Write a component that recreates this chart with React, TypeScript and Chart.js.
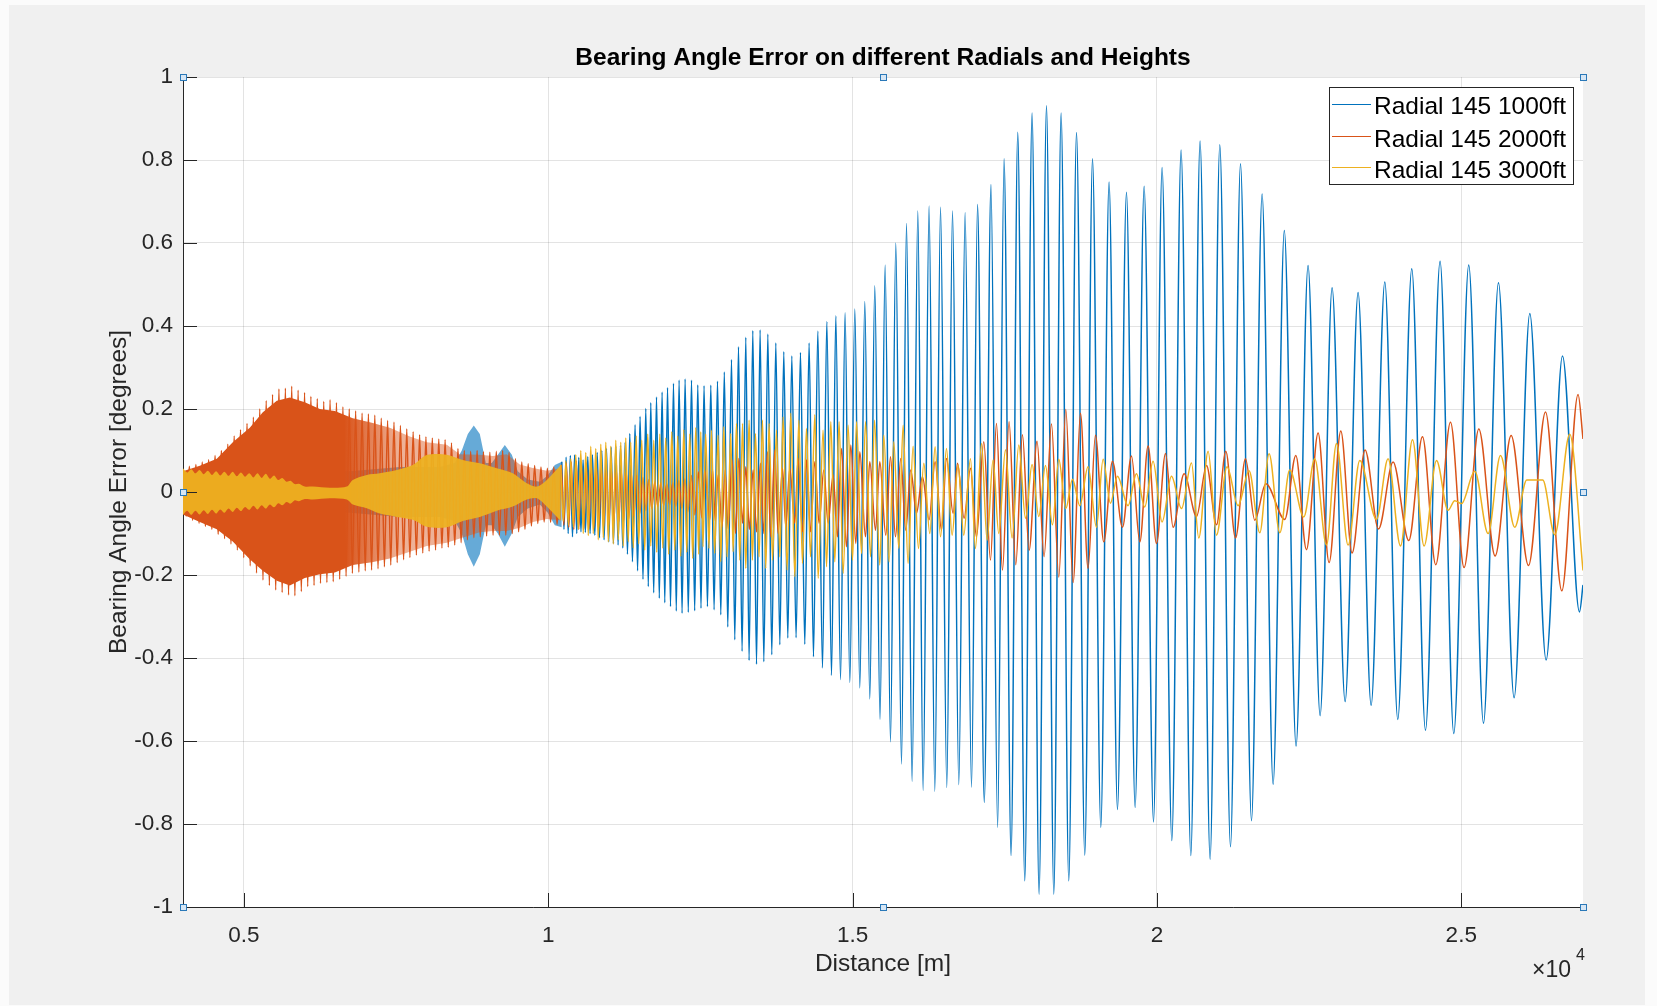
import React, { useEffect, useRef } from 'react';
import { Chart, registerables } from 'chart.js';

Chart.register(...registerables);

const FONT = '"Liberation Sans", Arial, Helvetica, sans-serif';
const BLUE = '#0072BD';
const ORANGE = '#D95319';
const YELLOW = '#EDB120';
const AXIS = '#262626';

const chartTitle = 'Bearing Angle Error on different Radials and Heights';
const xTitle = 'Distance [m]';
const yTitle = 'Bearing Angle Error [degrees]';
const seriesLabels = ['Radial 145 1000ft', 'Radial 145 2000ft', 'Radial 145 3000ft'];
const xTickValues = [5000, 10000, 15000, 20000, 25000];
const yTickValues = [-1, -0.8, -0.6, -0.4, -0.2, 0, 0.2, 0.4, 0.6, 0.8, 1];

// ---- dense (unresolvable) parts: envelopes of the oscillation ----
const blueBandX = [4000, 5097, 5919, 6740, 7562, 8219, 8465, 8580, 8679, 8777, 8876, 8975, 9073, 9172, 9287, 9402, 9500, 9665, 9862, 9993, 10108, 10223];
const blueBandHi = [0.03, 0.04, 0.05, 0.05, 0.06, 0.06, 0.07, 0.10, 0.14, 0.16, 0.14, 0.07, 0.07, 0.09, 0.113, 0.09, 0.05, 0.03, 0.025, 0.04, 0.065, 0.073];
const blueBandLo = [-0.03, -0.04, -0.05, -0.05, -0.06, -0.06, -0.07, -0.10, -0.15, -0.18, -0.15, -0.08, -0.08, -0.10, -0.132, -0.10, -0.06, -0.04, -0.03, -0.05, -0.08, -0.085];

const orangeBandX = [4000, 4276, 4555, 4818, 5097, 5311, 5541, 5755, 6001, 6247, 6494, 6789, 7102, 7397, 7726, 8005, 8334, 8547, 8876, 9090, 9320, 9533, 9747, 9977, 10215];
const orangeBandHi = [0.05, 0.063, 0.08, 0.12, 0.155, 0.192, 0.22, 0.228, 0.216, 0.2, 0.195, 0.178, 0.167, 0.155, 0.134, 0.12, 0.114, 0.091, 0.09, 0.087, 0.091, 0.066, 0.058, 0.051, 0.058];
const orangeBandLo = [-0.054, -0.072, -0.09, -0.119, -0.162, -0.19, -0.214, -0.225, -0.207, -0.198, -0.194, -0.176, -0.169, -0.16, -0.144, -0.13, -0.122, -0.112, -0.097, -0.094, -0.094, -0.086, -0.072, -0.065, -0.068];

const yellowBandX = [4000, 4068, 4136, 4204, 4272, 4340, 4408, 4476, 4544, 4612,
  4680, 4748, 4816, 4884, 4952, 5020, 5088, 5156, 5224, 5292,
  5360, 5428, 5496, 5564, 5632, 5700, 5768, 5836, 5904, 6000,
  6133, 6412, 6691, 6789, 7019, 7233, 7512, 7775, 8005, 8334,
  8597, 8876, 9155, 9418, 9648, 9813, 9977, 10206];
const yellowBandHi = [0.057, 0.047, 0.055, 0.045, 0.053, 0.043, 0.051, 0.041, 0.05, 0.04,
  0.049, 0.039, 0.049, 0.038, 0.047, 0.037, 0.045, 0.035, 0.045, 0.034,
  0.044, 0.032, 0.04, 0.029, 0.034, 0.025, 0.027, 0.019, 0.02, 0.013,
  0.013, 0.010, 0.013, 0.029, 0.041, 0.045, 0.053, 0.065, 0.089, 0.090,
  0.077, 0.069, 0.057, 0.045, 0.021, 0.013, 0.029, 0.065];
const yellowBandLo = [-0.055, -0.045, -0.055, -0.045, -0.054, -0.044, -0.053, -0.043, -0.052, -0.042,
  -0.05, -0.04, -0.048, -0.038, -0.046, -0.036, -0.043, -0.033, -0.042, -0.032,
  -0.04, -0.03, -0.037, -0.027, -0.032, -0.024, -0.028, -0.02, -0.022, -0.017,
  -0.018, -0.015, -0.018, -0.030, -0.039, -0.052, -0.060, -0.067, -0.084, -0.085,
  -0.070, -0.060, -0.045, -0.035, -0.018, -0.015, -0.035, -0.07];

// ---- orange spikes in the dense part (peaks and troughs of the striations) ----
const orangeDenseX = [4000, 4052, 4105, 4158, 4212, 4264, 4316, 4368, 4421, 4474,
  4527, 4578, 4630, 4683, 4736, 4788, 4841, 4893, 4945, 4998,
  5052, 5104, 5156, 5208, 5261, 5314, 5367, 5419, 5471, 5523,
  5576, 5629, 5682, 5734, 5786, 5838, 5891, 5944, 5997, 6049,
  6101, 6153, 6206, 6259, 6312, 6364, 6416, 6468, 6521, 6574,
  6627, 6679, 6731, 6783, 6836, 6889, 6942, 6994, 7046, 7098,
  7151, 7204, 7257, 7309, 7361, 7413, 7466, 7519, 7572, 7624,
  7676, 7728, 7781, 7834, 7887, 7939, 7991, 8043, 8096, 8149,
  8202, 8254, 8306, 8358, 8411, 8464, 8517, 8569, 8621, 8673,
  8726, 8779, 8832, 8884, 8936, 8988, 9041, 9094, 9147, 9199,
  9251, 9303, 9356, 9409, 9462, 9514, 9566, 9618, 9671, 9724,
  9777, 9829, 9881, 9933, 9986, 10039, 10092, 10145];
const orangeDenseY = [0.055, -0.058, 0.062, -0.068, 0.066, -0.075, 0.072, -0.083, 0.078, -0.09,
  0.088, -0.102, 0.10, -0.112, 0.115, -0.125, 0.135, -0.14, 0.15, -0.158,
  0.165, -0.178, 0.18, -0.195, 0.20, -0.212, 0.22, -0.225, 0.235, -0.236,
  0.248, -0.242, 0.25, -0.248, 0.255, -0.25, 0.245, -0.24, 0.24, -0.228,
  0.23, -0.225, 0.225, -0.22, 0.218, -0.218, 0.222, -0.216, 0.215, -0.21,
  0.205, -0.203, 0.20, -0.196, 0.195, -0.193, 0.19, -0.19, 0.188, -0.188,
  0.185, -0.185, 0.178, -0.18, 0.172, -0.176, 0.168, -0.17, 0.16, -0.163,
  0.152, -0.158, 0.145, -0.152, 0.138, -0.147, 0.133, -0.143, 0.13, -0.14,
  0.128, -0.135, 0.126, -0.133, 0.118, -0.128, 0.105, -0.122, 0.10, -0.115,
  0.098, -0.11, 0.10, -0.108, 0.097, -0.106, 0.096, -0.104, 0.098, -0.104,
  0.10, -0.104, 0.095, -0.10, 0.08, -0.096, 0.072, -0.09, 0.068, -0.082,
  0.064, -0.076, 0.06, -0.072, 0.057, -0.073, 0.06, -0.078];

// ---- resolved part: successive peaks and troughs ----
const blueX = [10223, 10259, 10294, 10328, 10363, 10399, 10433, 10469, 10502, 10538,
  10573, 10610, 10650, 10688, 10727, 10765, 10805, 10842, 10880, 10918,
  10957, 10995, 11034, 11072, 11110, 11148, 11187, 11225, 11264, 11302,
  11340, 11384, 11427, 11468, 11509, 11557, 11603, 11644, 11685, 11733,
  11779, 11825, 11871, 11915, 11960, 12009, 12058, 12104, 12150, 12199,
  12249, 12301, 12354, 12406, 12457, 12510, 12560, 12616, 12671, 12725,
  12781, 12835, 12893, 12950, 13011, 13065, 13126, 13185, 13246, 13300,
  13361, 13422, 13481, 13542, 13608, 13673, 13739, 13805, 13870, 13936,
  14002, 14072, 14144, 14215, 14286, 14358, 14429, 14506, 14577, 14654,
  14725, 14802, 14877, 14955, 15037, 15119, 15201, 15283, 15365, 15451,
  15535, 15623, 15710, 15804, 15886, 15978, 16072, 16159, 16257, 16351,
  16445, 16548, 16642, 16745, 16849, 16954, 17053, 17164, 17274, 17383,
  17489, 17604, 17714, 17829, 17949, 18064, 18186, 18306, 18426, 18552,
  18679, 18815, 18942, 19078, 19214, 19352, 19500, 19642, 19790, 19944,
  20085, 20245, 20397, 20557, 20709, 20874, 21033, 21209, 21373, 21554,
  21728, 21909, 22093, 22286, 22483, 22681, 22878, 23092, 23305, 23519,
  23744, 23957, 24187, 24412, 24652, 24877, 25123, 25365, 25611, 25868,
  26126, 26394, 26663, 26942, 27000];
const blueY = [0.073, -0.09, 0.084, -0.10, 0.088, -0.108, 0.089, -0.10, 0.083, -0.096,
  0.077, -0.097, 0.085, -0.10, 0.09, -0.104, 0.095, -0.11, 0.10, -0.115,
  0.105, -0.12, 0.108, -0.124, 0.11, -0.128, 0.112, -0.135, 0.12, -0.15,
  0.141, -0.168, 0.162, -0.19, 0.182, -0.21, 0.201, -0.228, 0.215, -0.243,
  0.229, -0.256, 0.241, -0.267, 0.252, -0.276, 0.262, -0.287, 0.270, -0.292,
  0.272, -0.290, 0.269, -0.286, 0.258, -0.280, 0.256, -0.276, 0.257, -0.284,
  0.267, -0.296, 0.289, -0.325, 0.319, -0.356, 0.350, -0.384, 0.373, -0.406,
  0.389, -0.415, 0.391, -0.409, 0.381, -0.392, 0.359, -0.368, 0.338, -0.352,
  0.328, -0.351, 0.336, -0.367, 0.359, -0.397, 0.388, -0.424, 0.411, -0.442,
  0.425, -0.452, 0.432, -0.459, 0.441, -0.472, 0.459, -0.499, 0.497, -0.548,
  0.547, -0.602, 0.600, -0.655, 0.647, -0.697, 0.677, -0.719, 0.689, -0.721,
  0.686, -0.712, 0.677, -0.705, 0.673, -0.711, 0.693, -0.748, 0.741, -0.808,
  0.803, -0.876, 0.867, -0.937, 0.913, -0.969, 0.931, -0.969, 0.913, -0.937,
  0.866, -0.875, 0.803, -0.808, 0.747, -0.765, 0.722, -0.760, 0.737, -0.795,
  0.782, -0.840, 0.824, -0.876, 0.846, -0.885, 0.837, -0.855, 0.791, -0.792,
  0.718, -0.704, 0.630, -0.612, 0.546, -0.539, 0.492, -0.505, 0.481, -0.514,
  0.506, -0.548, 0.538, -0.574, 0.556, -0.582, 0.547, -0.557, 0.504, -0.496,
  0.430, -0.405, 0.328, -0.289, -0.224];

const orangeX = [10215, 10256, 10297, 10338, 10379, 10420, 10461, 10502, 10543, 10584,
  10625, 10666, 10707, 10749, 10790, 10831, 10872, 10913, 10954, 10995,
  11036, 11077, 11118, 11159, 11200, 11241, 11282, 11324, 11365, 11406,
  11455, 11504, 11554, 11603, 11652, 11702, 11751, 11800, 11850, 11899,
  11948, 11997, 12047, 12096, 12145, 12195, 12244, 12293, 12351, 12408,
  12466, 12523,
  12572, 12654, 12699, 12745, 12791, 12856, 12906, 12955, 13021, 13077,
  13131, 13192, 13246, 13304, 13366, 13422, 13487, 13542, 13602, 13656,
  13722, 13776, 13849, 13903, 13969, 14051, 14105, 14177, 14243, 14309,
  14380, 14450, 14527, 14598, 14680, 14752, 14818, 14900, 14971, 15053,
  15119, 15212, 15283, 15377, 15447, 15546, 15623, 15705, 15792, 15874,
  15956, 16050, 16148, 16257, 16356, 16461, 16543, 16652, 16724, 16832,
  16937, 17036, 17156, 17266, 17364, 17463, 17571, 17681, 17791, 17900,
  18031, 18146, 18268, 18388, 18503, 18623, 18744, 18869, 18990, 19127,
  19270, 19434, 19582, 19719, 19855, 19993, 20141, 20266, 20447, 20651,
  20815, 20979, 21132, 21291, 21455, 21608, 21789, 22101, 22282, 22457,
  22648, 22829, 23021, 23206, 23420, 23640, 23880, 24138, 24363, 24581,
  24823, 25046, 25288, 25556, 25819, 26105, 26384, 26652, 26919, 27000];
const orangeY = [0.065, -0.08, 0.07, -0.085, 0.072, -0.09, 0.075, -0.09, 0.072, -0.088,
  0.07, -0.09, 0.068, -0.088, 0.066, -0.085, 0.062, -0.082, 0.06, -0.08,
  0.058, -0.076, 0.055, -0.072, 0.052, -0.068, 0.048, -0.064, 0.045, -0.058,
  0.04, -0.052, 0.035, -0.045, 0.03, -0.04, 0.025, -0.035, 0.022, -0.032,
  0.02, -0.03, 0.022, -0.035, 0.028, -0.04, 0.032, -0.048, 0.04, -0.055,
  0.048, -0.062,
  0.053, -0.067, 0.055, -0.07, 0.041, -0.084, 0.053, -0.088, 0.077, -0.100,
  0.081, -0.075, 0.061, -0.09, 0.053, -0.096, 0.069, -0.100, 0.097, -0.108,
  0.101, -0.100, 0.057, -0.084, 0.057, -0.075, 0.081, -0.096, 0.077, -0.096,
  0.073, -0.075, 0.053, -0.075, 0.041, -0.108, 0.105, -0.132, 0.113, -0.124,
  0.097, -0.108, 0.073, -0.092, 0.073, -0.104, 0.085, -0.108, 0.081, -0.092,
  0.053, -0.051, 0.037, -0.067, 0.073, -0.092, 0.081, -0.051, 0.069, -0.063,
  0.057, -0.108, 0.121, -0.164, 0.165, -0.188, 0.169, -0.175, 0.138, -0.140,
  0.122, -0.156, 0.164, -0.205, 0.199, -0.218, 0.190, -0.184, 0.137, -0.120,
  0.074, -0.085, 0.087, -0.120, 0.111, -0.124, 0.093, -0.085, 0.044, -0.059,
  0.064, -0.079, 0.098, -0.111, 0.080, -0.068, 0.020, -0.066, 0.088, -0.139,
  0.142, -0.170, 0.147, -0.147, 0.101, -0.089, 0.072, -0.117, 0.133, -0.175,
  0.168, -0.182, 0.152, -0.154, 0.136, -0.177, 0.193, -0.238, 0.235, 0.128];

const yellowX = [10206, 10247, 10289, 10330, 10371, 10412, 10453, 10494, 10535, 10576,
  10617, 10658, 10699, 10740, 10781, 10822, 10864, 10905, 10946, 10987,
  11028, 11069, 11110, 11151, 11192, 11233, 11274, 11315, 11356, 11397,
  11446, 11487, 11537, 11586, 11635, 11685, 11734, 11783, 11833, 11882,
  11931, 11980, 12030, 12079, 12128, 12177, 12227, 12276, 12325, 12374,
  12424, 12473, 12506, 12543, 12587, 12642, 12681, 12735, 12790, 12834,
  12884, 12938, 12999, 13037, 13093, 13147, 13192, 13246, 13300, 13356,
  13405, 13464, 13520, 13574, 13629, 13685, 13750, 13805, 13859, 13925,
  13985, 14051, 14117, 14177, 14243, 14309, 14380, 14434, 14516, 14572,
  14643, 14708, 14779, 14845, 14927, 14999, 15065, 15147, 15213, 15295,
  15361, 15447, 15513, 15600, 15677, 15760, 15830, 15912, 15994, 16083,
  16170, 16269, 16356, 16445, 16543, 16635, 16734, 16827, 16937, 17019,
  17118, 17210, 17308, 17402, 17512, 17621, 17731, 17841, 17949, 18059,
  18169, 18284, 18388, 18503, 18613, 18733, 18869, 19007, 19116, 19237,
  19352, 19526, 19664, 19800, 19937, 20085, 20239, 20404, 20568, 20688,
  20841, 20979, 21152, 21333, 21514, 21690, 21843, 22019, 22182, 22413,
  22593, 22786, 22950, 23141, 23333, 23607, 23798, 24002, 24199, 24389,
  24593, 24783, 24893, 25003, 25222, 25441, 25644, 25879, 26076, 26339,
  26536, 26782, 27000];
const yellowY = [0.065, -0.07, 0.075, -0.08, 0.08, -0.085, 0.09, -0.09, 0.10, -0.10,
  0.095, -0.105, 0.11, -0.10, 0.105, -0.115, 0.115, -0.11, 0.12, -0.12,
  0.11, -0.125, 0.125, -0.115, 0.12, -0.13, 0.13, -0.12, 0.12, -0.135,
  0.135, -0.125, 0.125, -0.14, 0.14, -0.13, 0.125, -0.145, 0.14, -0.135,
  0.13, -0.15, 0.145, -0.14, 0.135, -0.155, 0.15, -0.145, 0.14, -0.16,
  0.155, -0.15, 0.145, -0.132, 0.14, -0.136, 0.149, -0.148, 0.137, -0.168,
  0.157, -0.156, 0.141, -0.144, 0.165, -0.164, 0.165, -0.184, 0.173, -0.164,
  0.141, -0.156, 0.173, -0.184, 0.165, -0.164, 0.149, -0.156, 0.181, -0.188,
  0.190, -0.204, 0.173, -0.172, 0.153, -0.156, 0.186, -0.208, 0.149, -0.180,
  0.169, -0.168, 0.169, -0.196, 0.161, -0.164, 0.169, -0.148, 0.169, -0.156,
  0.173, -0.176, 0.137, -0.168, 0.121, -0.136, 0.161, -0.172, 0.11, -0.136,
  0.069, -0.100, 0.109, -0.108, 0.105, -0.104, 0.065, -0.104, 0.08, -0.136,
  0.117, -0.116, 0.077, -0.100, 0.102, -0.111, 0.113, -0.063, 0.066, -0.059,
  0.064, -0.079, 0.079, -0.040, 0.031, -0.033, 0.061, -0.085, 0.079, -0.027,
  0.038, -0.033, 0.044, -0.036, 0.074, -0.072, 0.038, -0.040, 0.070, -0.111,
  0.098, -0.104, 0.061, -0.033, 0.051, -0.098, 0.092, -0.098, 0.053, -0.060,
  0.080, -0.128, 0.117, -0.128, 0.076, -0.066, 0.080, -0.130, 0.126, -0.130,
  0.076, -0.044, -0.021, -0.028, 0.050, -0.100, 0.088, -0.085, 0.029, 0.029,
  -0.103, 0.139, -0.189];

function pts(xs: number[], ys: number[]) {
  return xs.map((x, i) => ({ x, y: ys[i] }));
}

function band(xs: number[], hi: number[], lo: number[], color: any, order: number, tension = 0) {
  return [
    { data: pts(xs, hi), fill: '+1', backgroundColor: color, borderColor: 'rgba(0,0,0,0)', borderWidth: 0, pointRadius: 0, tension, order },
    { data: pts(xs, lo), fill: false, backgroundColor: 'rgba(0,0,0,0)', borderColor: 'rgba(0,0,0,0)', borderWidth: 0, pointRadius: 0, tension, order },
  ];
}

function wave(xs: number[], ys: number[], color: string, order: number) {
  return {
    data: pts(xs, ys), borderColor: color, backgroundColor: color, borderWidth: 1.5,
    pointRadius: 0, fill: false, cubicInterpolationMode: 'monotone', order,
  };
}

// solid orange core that fades into the lighter striated part
function orangeFade(c: any) {
  const chart = c.chart;
  const xs = chart && chart.scales && chart.scales.x;
  if (!chart || !chart.chartArea || !xs) return ORANGE;
  const g = chart.ctx.createLinearGradient(xs.getPixelForValue(6650), 0, xs.getPixelForValue(7550), 0);
  g.addColorStop(0, 'rgba(217,83,25,1)');
  g.addColorStop(1, 'rgba(217,83,25,0.45)');
  return g;
}

const framePlugin = {
  id: 'matlabFrame',
  beforeDraw(chart: any) {
    const { ctx, chartArea: a } = chart;
    ctx.save();
    ctx.fillStyle = '#ffffff';
    ctx.fillRect(a.left, a.top, a.right - a.left, a.bottom - a.top);
    ctx.restore();
  },
  afterDraw(chart: any) {
    const { ctx, chartArea: a, scales } = chart;
    ctx.save();
    ctx.strokeStyle = AXIS;
    ctx.lineWidth = 1;
    ctx.beginPath();
    xTickValues.forEach((v) => {
      const px = Math.round(scales.x.getPixelForValue(v)) + 0.5;
      ctx.moveTo(px, a.bottom);
      ctx.lineTo(px, a.bottom - 14);
    });
    yTickValues.forEach((v) => {
      const py = Math.round(scales.y.getPixelForValue(v)) + 0.5;
      ctx.moveTo(a.left, py);
      ctx.lineTo(a.left + 14, py);
    });
    ctx.stroke();
    const mx = (a.left + a.right) / 2;
    const my = (a.top + a.bottom) / 2;
    const handles = [[a.left, a.top], [mx, a.top], [a.right, a.top], [a.left, my], [a.right, my], [a.left, a.bottom], [mx, a.bottom], [a.right, a.bottom]];
    handles.forEach(([hx, hy]) => {
      const x0 = Math.round(hx) - 3;
      const y0 = Math.round(hy) - 3;
      ctx.fillStyle = '#d7e6f4';
      ctx.fillRect(x0, y0, 6, 6);
      ctx.strokeStyle = '#2a78b8';
      ctx.strokeRect(x0 + 0.5, y0 + 0.5, 6, 6);
    });
    ctx.restore();
  },
};

export default function App() {
  const canvasRef = useRef<HTMLCanvasElement | null>(null);

  useEffect(() => {
    const canvas = canvasRef.current;
    if (!canvas) return;
    const datasets: any[] = [
      ...band(blueBandX, blueBandHi, blueBandLo, 'rgba(0,114,189,0.6)', 3),
      wave(blueX, blueY, BLUE, 3),
      ...band(orangeBandX, orangeBandHi, orangeBandLo, orangeFade, 2),
      wave([...orangeDenseX, ...orangeX], [...orangeDenseY, ...orangeY], ORANGE, 2),
      ...band(yellowBandX, yellowBandHi, yellowBandLo, 'rgba(237,177,32,0.93)', 1, 0.3),
      wave(yellowX, yellowY, YELLOW, 1),
    ];
    const chart = new Chart(canvas, {
      type: 'line',
      data: { datasets },
      plugins: [framePlugin],
      options: {
        responsive: false,
        animation: false,
        events: [],
        layout: { padding: { left: 0, right: 74, top: 0, bottom: 0 } },
        elements: { line: { tension: 0 } },
        plugins: {
          legend: { display: false },
          tooltip: { enabled: false },
          title: {
            display: true,
            text: chartTitle,
            color: '#000000',
            fullSize: false,
            font: { family: FONT, size: 24.5, weight: 'bold' },
            padding: { top: 43.3, bottom: 4.3 },
          },
        },
        scales: {
          x: {
            type: 'linear',
            position: 'bottom',
            min: 4000,
            max: 27000,
            afterBuildTicks: (s: any) => { s.ticks = xTickValues.map((v) => ({ value: v })); },
            afterFit: (s: any) => { s.height = 99; },
            ticks: {
              autoSkip: false,
              maxRotation: 0,
              color: AXIS,
              padding: 15,
              font: { family: FONT, size: 22.5 },
              callback: (v: any) => String(Number(v) / 10000),
            },
            grid: { color: 'rgba(38,38,38,0.13)', lineWidth: 1, drawTicks: false },
            border: { display: true, color: AXIS, width: 1 },
            title: {
              display: true, text: xTitle, color: AXIS,
              font: { family: FONT, size: 24.5 },
              padding: { top: 0, bottom: 27.3 },
            },
          },
          y: {
            type: 'linear',
            position: 'left',
            min: -1,
            max: 1,
            afterBuildTicks: (s: any) => { s.ticks = yTickValues.map((v) => ({ value: v })); },
            afterFit: (s: any) => { s.width = 183; },
            ticks: {
              color: AXIS,
              padding: 10,
              font: { family: FONT, size: 22.5 },
              callback: (v: any) => String(Math.round(Number(v) * 10) / 10),
            },
            grid: { color: 'rgba(38,38,38,0.13)', lineWidth: 1, drawTicks: false },
            border: { display: true, color: AXIS, width: 1 },
            title: {
              display: true, text: yTitle, color: AXIS,
              font: { family: FONT, size: 24.5 },
              padding: { top: 104.3, bottom: 0 },
            },
          },
        },
      } as any,
    });
    return () => chart.destroy();
  }, []);

  const legendColors = [BLUE, ORANGE, YELLOW];
  const rowTops = [90, 122.5, 153.5];
  const lineCenters = [104.3, 136.7, 167.7];

  return (
    <div style={{ position: 'fixed', left: 0, top: 0, width: 1657, height: 1006, background: '#fbfbfb', overflow: 'hidden' }}>
      <div style={{ position: 'absolute', left: 9, top: 5, width: 1636, height: 1000, background: '#f0f0f0' }} />
      <canvas ref={canvasRef} width={1657} height={1006} style={{ position: 'absolute', left: 0, top: 0, width: 1657, height: 1006 }} />
      <div style={{ position: 'absolute', left: 1329, top: 87, width: 245, height: 98, boxSizing: 'border-box', border: '1px solid #262626', background: '#ffffff' }} />
      {seriesLabels.map((label, i) => (
        <React.Fragment key={label}>
          <div style={{ position: 'absolute', left: 1332, top: lineCenters[i] - 0.75, width: 39, height: 1.5, background: legendColors[i] }} />
          <div style={{ position: 'absolute', left: 1374, top: rowTops[i], height: 32, lineHeight: '32px', fontFamily: FONT, fontSize: 24.5, color: '#000', whiteSpace: 'nowrap' }}>{label}</div>
        </React.Fragment>
      ))}
      <div style={{ position: 'absolute', left: 1532, top: 957.5, lineHeight: '23px', fontFamily: FONT, fontSize: 23, color: AXIS, whiteSpace: 'nowrap' }}>×10</div>
      <div style={{ position: 'absolute', left: 1576, top: 946.5, lineHeight: '16px', fontFamily: FONT, fontSize: 16, color: AXIS }}>4</div>
    </div>
  );
}
